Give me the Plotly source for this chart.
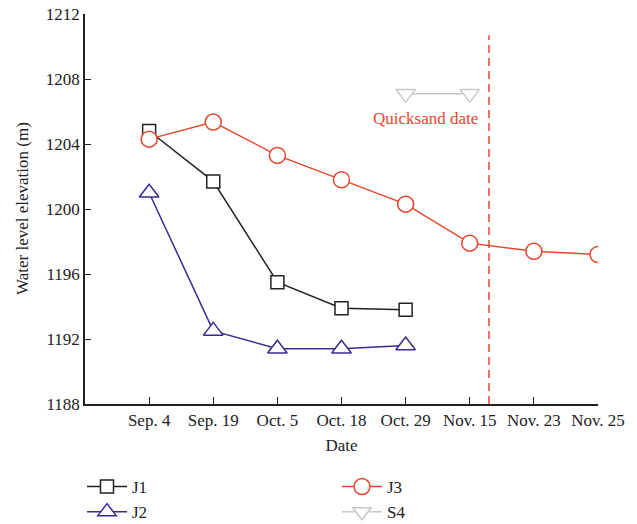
import plotly.graph_objects as go

dates = ["Sep. 4", "Sep. 19", "Oct. 5", "Oct. 18", "Oct. 29", "Nov. 15", "Nov. 23", "Nov. 25"]
j1 = [1204.8, 1201.7, 1195.5, 1193.9, 1193.8]
j2 = [1201.0, 1192.5, 1191.4, 1191.4, 1191.6]
j3 = [1204.3, 1205.35, 1203.3, 1201.8, 1200.3, 1197.9, 1197.4, 1197.2]
s4_idx = [4, 5]
s4 = [1207.1, 1207.1]
quicksand_pos = 5.3

FONT = "Liberation Serif"
BLACK = "#222222"
BLUE = "#3b2a8f"
RED = "#e8452c"
GRAY = "#c8c8c8"

fig = go.Figure()

def add(name, xs, ys, color, symbol, size, legend):
    fig.add_trace(go.Scatter(
        x=xs, y=ys, name=name, mode="lines+markers", legend=legend,
        line=dict(color=color, width=1.5),
        marker=dict(symbol=symbol, size=size, color="white",
                    line=dict(color=color, width=1.5)),
    ))

add("J1", list(range(len(j1))), j1, BLACK, "square", 13, "legend")
add("J2", list(range(len(j2))), j2, BLUE, "triangle-up", 17, "legend")
add("J3", list(range(len(j3))), j3, RED, "circle", 16, "legend2")
add("S4", s4_idx, s4, GRAY, "triangle-down", 17, "legend2")

fig.add_shape(type="line", x0=quicksand_pos, x1=quicksand_pos, y0=1188, y1=1210.7,
              xref="x", yref="y", line=dict(color=RED, width=1.5, dash="8px,5px"))
fig.add_annotation(x=5.16, y=1205.6, xref="x", yref="y", text="Quicksand date",
                   showarrow=False, xanchor="right", yanchor="middle",
                   font=dict(family=FONT, size=17, color=RED))

# y-axis title, to the left of the tick labels
fig.add_annotation(x=(22 - 85) / 513, y=0.5, xref="paper", yref="paper",
                   text="Water level elevation (m)", textangle=-90, showarrow=False,
                   xanchor="center", yanchor="middle",
                   font=dict(family=FONT, size=17, color="#222222"))

legend_common = dict(orientation="v", xref="container", yref="container",
                     yanchor="top", xanchor="left", tracegroupgap=0,
                     bgcolor="rgba(0,0,0,0)", itemwidth=40,
                     font=dict(family=FONT, size=17, color="#222222"))

fig.update_layout(
    width=637, height=524,
    margin=dict(l=85, r=39, t=14, b=120, autoexpand=False),
    paper_bgcolor="white", plot_bgcolor="white",
    font=dict(family=FONT, size=17, color="#222222"),
    showlegend=True,
    legend=dict(x=82 / 637, y=(524 - 469) / 524, **legend_common),
    legend2=dict(x=337 / 637, y=(524 - 469) / 524, **legend_common),
)
fig.update_xaxes(
    range=[-1, 7], tickvals=list(range(len(dates))), ticktext=dates,
    showline=True, linecolor=BLACK, linewidth=1.5, mirror=False,
    ticks="inside", ticklen=7, tickcolor=BLACK, tickwidth=1.2,
    showgrid=False, zeroline=False,
    title=dict(text="Date", standoff=10, font=dict(family=FONT, size=17)),
)
fig.update_yaxes(
    range=[1188, 1212], dtick=4, tick0=1188,
    showline=True, linecolor=BLACK, linewidth=1.5,
    ticks="inside", ticklen=6, tickcolor=BLACK, tickwidth=1.2,
    showgrid=False, zeroline=False,
)

fig.write_html("out.html")
